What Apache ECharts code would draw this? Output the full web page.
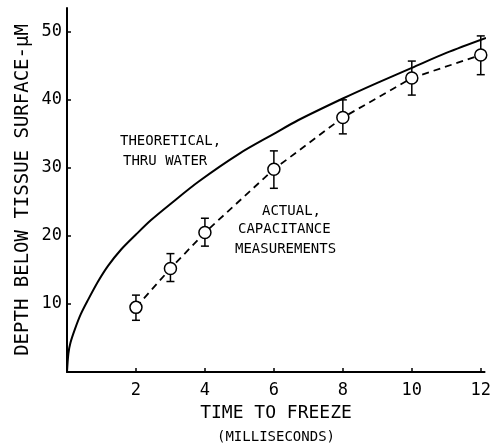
<!DOCTYPE html>
<html>
<head>
<meta charset="utf-8">
<script src="https://cdn.jsdelivr.net/npm/echarts@6/dist/echarts.min.js"></script>
<style>
html,body{margin:0;padding:0;background:#fff;}
#chart{width:494px;height:447px;}
</style>
</head>
<body>
<div id="chart"></div>
<script>
// Tick labels
const xTicks = [2, 4, 6, 8, 10, 12];
const yTicks = [10, 20, 30, 40, 50];

// Actual capacitance measurements (ms -> depth in um)
const actualX = [2, 3, 4, 6, 8, 10, 12];
const actualY = [9.5, 15.2, 20.5, 29.8, 37.4, 43.2, 46.6];
const errLow  = [7.6, 13.3, 18.5, 27.0, 35.0, 40.7, 43.7];
const errHigh = [11.3, 17.4, 22.6, 32.5, 40.0, 45.7, 49.4];

// Theoretical curve, thru water
const theoX = [0, 0.04, 0.1, 0.23, 0.4, 0.61, 0.9, 1.19, 1.57, 2, 2.43, 3, 3.82, 5, 6, 6.7, 8, 9, 10, 11, 12.15];
const theoY = [0, 2.7, 4.3, 6.3, 8.5, 10.6, 13.3, 15.6, 18.0, 20.2, 22.3, 24.7, 28.0, 32.1, 35.0, 37.0, 40.2, 42.5, 44.7, 46.9, 49.1];

const FONT = '"DejaVu Sans Mono", "Liberation Mono", monospace';

const chart = echarts.init(document.getElementById('chart'), null, {renderer: 'canvas'});

const option = {
  animation: false,
  backgroundColor: '#fff',
  grid: {left: 67, right: 6, top: 8, bottom: 75, containLabel: false},
  xAxis: {
    type: 'value', min: 0, max: 12.11,
    splitLine: {show: false},
    axisLine: {show: true, onZero: false, lineStyle: {color: '#000', width: 2}},
    axisTick: {show: true, inside: true, length: 4, lineStyle: {color: '#000', width: 1.5}, customValues: xTicks},
    axisLabel: {color: '#000', fontFamily: FONT, fontSize: 17, margin: 10, customValues: xTicks}
  },
  yAxis: {
    type: 'value', min: 0, max: 53.5,
    splitLine: {show: false},
    axisLine: {show: true, onZero: false, lineStyle: {color: '#000', width: 2}},
    axisTick: {show: true, inside: true, length: 4, lineStyle: {color: '#000', width: 1.5}, customValues: yTicks},
    axisLabel: {color: '#000', fontFamily: FONT, fontSize: 17, margin: 5, customValues: yTicks}
  },
  series: [
    {
      name: 'theoretical', type: 'line',
      data: theoX.map((x, i) => [x, theoY[i]]),
      smooth: 0.3, showSymbol: false, symbol: 'none',
      lineStyle: {color: '#000', width: 2}, z: 2
    },
    {
      name: 'errors', type: 'custom',
      data: actualX.map((x, i) => [x, errLow[i], errHigh[i]]),
      renderItem: function (params, api) {
        const x = api.value(0);
        const lo = api.coord([x, api.value(1)]);
        const hi = api.coord([x, api.value(2)]);
        const w = 4;
        const st = {stroke: '#000', lineWidth: 1.5};
        return {
          type: 'group',
          children: [
            {type: 'line', shape: {x1: lo[0], y1: lo[1], x2: hi[0], y2: hi[1]}, style: st},
            {type: 'line', shape: {x1: hi[0] - w, y1: hi[1], x2: hi[0] + w, y2: hi[1]}, style: st},
            {type: 'line', shape: {x1: lo[0] - w, y1: lo[1], x2: lo[0] + w, y2: lo[1]}, style: st}
          ]
        };
      },
      z: 3
    },
    {
      name: 'actual', type: 'line',
      data: actualX.map((x, i) => [x, actualY[i]]),
      symbol: 'circle', symbolSize: 12, showSymbol: true,
      itemStyle: {color: '#fff', borderColor: '#000', borderWidth: 1.5},
      lineStyle: {color: '#000', width: 1.8, type: [7, 5]},
      z: 4
    }
  ],
  graphic: [
    {type: 'text', x: 120, y: 141, style: {text: 'THEORETICAL,', font: '14px ' + FONT, fill: '#000', verticalAlign: 'middle'}},
    {type: 'text', x: 123, y: 161, style: {text: 'THRU WATER', font: '14px ' + FONT, fill: '#000', verticalAlign: 'middle'}},
    {type: 'text', x: 262, y: 211, style: {text: 'ACTUAL,', font: '14px ' + FONT, fill: '#000', verticalAlign: 'middle'}},
    {type: 'text', x: 238, y: 229, style: {text: 'CAPACITANCE', font: '14px ' + FONT, fill: '#000', verticalAlign: 'middle'}},
    {type: 'text', x: 235, y: 249, style: {text: 'MEASUREMENTS', font: '14px ' + FONT, fill: '#000', verticalAlign: 'middle'}},
    {type: 'text', x: 276, y: 413, style: {text: 'TIME TO FREEZE', font: '18px ' + FONT, fill: '#000', align: 'center', verticalAlign: 'middle'}},
    {type: 'text', x: 276, y: 437, style: {text: '(MILLISECONDS)', font: '14px ' + FONT, fill: '#000', align: 'center', verticalAlign: 'middle'}},
    {type: 'text', x: 23, y: 190, rotation: Math.PI / 2, style: {text: 'DEPTH BELOW TISSUE SURFACE-μM', font: '19px ' + FONT, fill: '#000', align: 'center', verticalAlign: 'middle'}}
  ]
};
chart.setOption(option);
</script>
</body>
</html>
